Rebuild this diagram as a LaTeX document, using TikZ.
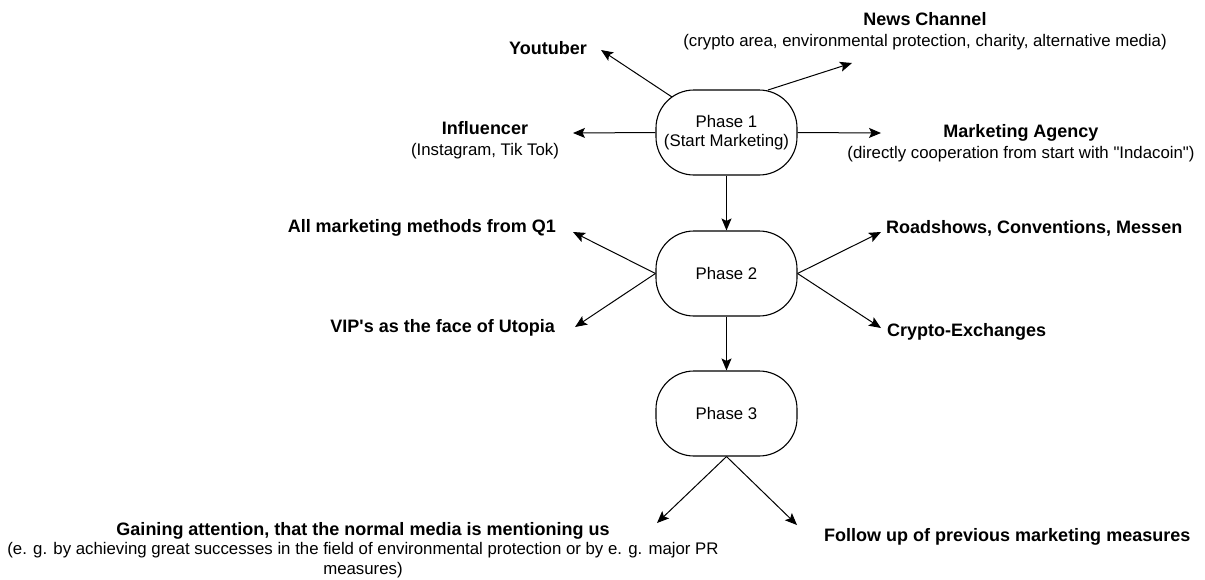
\documentclass[tikz,border=0pt]{standalone}
\usepackage{fontspec}
\setmainfont{Liberation Sans}[Ligatures=TeXOff]
\usetikzlibrary{arrows.meta}
\tikzset{
  phase/.style={draw=black, line width=1.1pt, rounded corners=38pt, minimum width=141pt, minimum height=85pt, align=center, inner sep=0pt, font=\fontsize{16.8}{19}\selectfont},
  lbl/.style={align=center, inner sep=0pt, font=\fontsize{16.8}{21}\selectfont},
  lblb/.style={align=center, inner sep=0pt, font=\fontsize{16.8}{19.5}\selectfont},
  bl/.style={inner sep=0pt, font=\bfseries\fontsize{18}{21}\selectfont},
  arr/.style={draw=black, line width=1pt, -{Stealth[length=12pt,width=10pt,inset=2.5pt]}}
}
\newcommand{\ttl}[1]{{\bfseries\fontsize{18}{21}\selectfont #1}}
\begin{document}
\begin{tikzpicture}[x=1pt,y=-1pt]
\useasboundingbox (0,0) rectangle (1205,579);
% phases
\node[phase] (p1) at (726.5,132.5) {Phase 1\\(Start Marketing)};
\node[phase] (p2) at (726.5,273.5) {Phase 2};
\node[phase] (p3) at (726.5,413.5) {Phase 3};
% labels
\node[bl] (yt) at (548,48) {Youtuber};
\node[lbl] (news) at (925,31) {\ttl{News Channel}\\(crypto area, environmental protection, charity, alternative media)};
\node[lbl] (infl) at (485,140) {\ttl{Influencer}\\(Instagram, Tik Tok)};
\node[lbl] (agency) at (1021,143) {\ttl{Marketing Agency}\\(directly cooperation from start with "Indacoin")};
\node[bl, anchor=east] (allm) at (556,228) {All marketing methods from Q1};
\node[bl, anchor=east] (vip) at (555,328) {VIP's as the face of Utopia};
\node[bl, anchor=west] (road) at (886,228) {Roadshows, Conventions, Messen};
\node[bl, anchor=west] (crypto) at (887,332) {Crypto-Exchanges};
\node[lblb] (gain) at (363,550) {\ttl{Gaining attention, that the normal media is mentioning us}\\(e. g. by achieving great successes in the field of environmental protection or by e. g. major PR\\measures)};
\node[bl, anchor=west] (follow) at (824,537) {Follow up of previous marketing measures};
% connector points
\coordinate (s1) at (672,97);
\coordinate (s2) at (768,90);
\coordinate (tyt) at (601,50);
\coordinate (tnews) at (852,63);
\coordinate (tinfl) at (573,133);
\coordinate (tagency) at (881,133);
\coordinate (tallm) at (573,232);
\coordinate (tvip) at (575,327);
\coordinate (troad) at (881,232);
\coordinate (tcrypto) at (881,328);
\coordinate (tgain) at (657,523);
\coordinate (tfollow) at (797,525);
% connectors
\draw[arr] (s1) -- (tyt);
\draw[arr] (s2) -- (tnews);
\draw[arr] (p1.west) -- (tinfl);
\draw[arr] (p1.east) -- (tagency);
\draw[arr] (p1.south) -- (p2.north);
\draw[arr] (p2.west) -- (tallm);
\draw[arr] (p2.west) -- (tvip);
\draw[arr] (p2.east) -- (troad);
\draw[arr] (p2.east) -- (tcrypto);
\draw[arr] (p2.south) -- (p3.north);
\draw[arr] (p3.south) -- (tgain);
\draw[arr] (p3.south) -- (tfollow);
\end{tikzpicture}
\end{document}
